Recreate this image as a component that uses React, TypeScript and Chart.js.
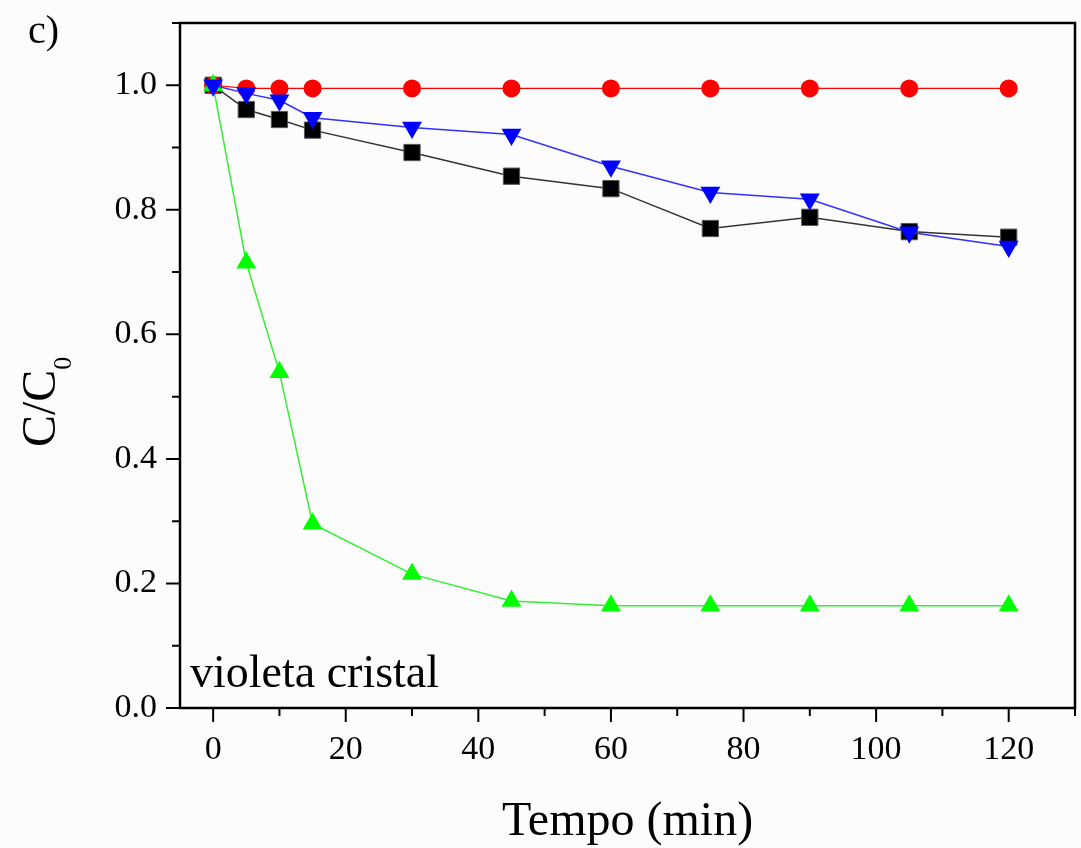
import React, { useEffect, useRef } from "react";
import { Chart, registerables } from "chart.js";

Chart.register(...registerables);

const times = [0, 5, 10, 15, 30, 45, 60, 75, 90, 105, 120];
const seriesBlack = [1.0, 0.961, 0.945, 0.928, 0.892, 0.854, 0.834, 0.77, 0.788, 0.765, 0.756];
const seriesRed = [1.0, 0.995, 0.995, 0.995, 0.995, 0.995, 0.995, 0.995, 0.995, 0.995, 0.995];
const seriesGreen = [1.0, 0.715, 0.539, 0.296, 0.215, 0.172, 0.164, 0.164, 0.164, 0.164, 0.164];
const seriesBlue = [1.0, 0.987, 0.976, 0.948, 0.932, 0.921, 0.87, 0.828, 0.817, 0.764, 0.741];

const xTicks = [0, 20, 40, 60, 80, 100, 120];
const xMinorTicks = [10, 30, 50, 70, 90, 110, 130];
const yTicks = [0, 0.2, 0.4, 0.6, 0.8, 1.0];
const yMinorTicks = [0.1, 0.3, 0.5, 0.7, 0.9, 1.1];

const SERIF = "'Liberation Serif', 'Times New Roman', serif";

const decorPlugin = {
  id: "decor",
  afterDraw(chart: any) {
    const { ctx, chartArea } = chart;
    const xs = chart.scales.x;
    const ys = chart.scales.y;
    const { left, right, top, bottom } = chartArea;
    ctx.save();
    ctx.strokeStyle = "#000";
    ctx.lineWidth = 2.5;
    ctx.strokeRect(left, top, right - left, bottom - top);
    ctx.lineWidth = 2;
    ctx.beginPath();
    for (const v of xTicks) {
      const px = xs.getPixelForValue(v);
      ctx.moveTo(px, bottom);
      ctx.lineTo(px, bottom + 14);
    }
    for (const v of xMinorTicks) {
      const px = xs.getPixelForValue(v);
      ctx.moveTo(px, bottom);
      ctx.lineTo(px, bottom + 8);
    }
    for (const v of yTicks) {
      const py = ys.getPixelForValue(v);
      ctx.moveTo(left, py);
      ctx.lineTo(left - 14, py);
    }
    for (const v of yMinorTicks) {
      const py = ys.getPixelForValue(v);
      ctx.moveTo(left, py);
      ctx.lineTo(left - 8, py);
    }
    ctx.stroke();

    ctx.fillStyle = "#000";
    ctx.textBaseline = "alphabetic";
    ctx.textAlign = "left";
    ctx.font = `40px ${SERIF}`;
    ctx.fillText("c)", 28, 43);

    ctx.font = `46px ${SERIF}`;
    ctx.fillText("violeta cristal", 190, 687);

    ctx.textAlign = "center";
    ctx.font = `48px ${SERIF}`;
    ctx.fillText("Tempo (min)", (left + right) / 2, 835);

    // y title with subscript
    ctx.save();
    ctx.translate(55, 447);
    ctx.rotate(-Math.PI / 2);
    ctx.textAlign = "left";
    ctx.font = `48px ${SERIF}`;
    const main = "C/C";
    ctx.fillText(main, 0, 0);
    const w = ctx.measureText(main).width;
    ctx.font = `26px ${SERIF}`;
    ctx.fillText("0", w, 16);
    ctx.restore();

    ctx.restore();
  },
};

export default function App() {
  const ref = useRef<HTMLCanvasElement | null>(null);

  useEffect(() => {
    document.body.style.margin = "0";
    document.body.style.background = "#fcfcfc";
    const canvas = ref.current;
    if (!canvas) return;
    const mk = (data: number[]) => times.map((t, i) => ({ x: t, y: data[i] }));
    const chart = new Chart(canvas, {
      type: "line",
      data: {
        datasets: [
          {
            label: "blue",
            data: mk(seriesBlue),
            borderColor: "#3030ff",
            borderWidth: 1.5,
            backgroundColor: "#0000ff",
            pointBackgroundColor: "#0000ff",
            pointBorderColor: "#0000ff",
            pointBorderWidth: 0,
            pointStyle: "triangle",
            pointRotation: 180,
            pointRadius: 11.5,
          },
          {
            label: "green",
            data: mk(seriesGreen),
            borderColor: "#33ee33",
            borderWidth: 1.5,
            backgroundColor: "#00ff00",
            pointBackgroundColor: "#00ff00",
            pointBorderColor: "#00ff00",
            pointBorderWidth: 0,
            pointStyle: "triangle",
            pointRadius: 11.5,
          },
          {
            label: "red",
            data: mk(seriesRed),
            borderColor: "#ff0000",
            borderWidth: 1.2,
            backgroundColor: "#ff0000",
            pointBackgroundColor: "#ff0000",
            pointBorderColor: "#ff0000",
            pointBorderWidth: 0,
            pointStyle: "circle",
            pointRadius: 9,
          },
          {
            label: "black",
            data: mk(seriesBlack),
            borderColor: "#333333",
            borderWidth: 1.5,
            backgroundColor: "#000000",
            pointBackgroundColor: "#000000",
            pointBorderColor: "#555555",
            pointBorderWidth: 1,
            pointStyle: "rect",
            pointRadius: 11.5,
          },
        ],
      },
      options: {
        animation: false,
        responsive: false,
        maintainAspectRatio: false,
        layout: { autoPadding: false, padding: { top: 23, right: 6, left: 0, bottom: 0 } },
        plugins: {
          legend: { display: false },
          tooltip: { enabled: false },
          title: { display: false },
        },
        scales: {
          x: {
            type: "linear",
            min: -5,
            max: 130,
            grid: { display: false, drawTicks: false },
            border: { display: false },
            afterBuildTicks: (s: any) => {
              s.ticks = xTicks.map((v) => ({ value: v }));
            },
            afterFit: (s: any) => {
              s.height = 140;
              s.paddingLeft = 0;
              s.paddingRight = 0;
              s.paddingTop = 0;
              s.paddingBottom = 0;
            },
            ticks: {
              padding: 22,
              color: "#000",
              font: { family: SERIF, size: 34 },
              maxRotation: 0,
              autoSkip: false,
              callback: (v: any) => String(v),
            },
          },
          y: {
            type: "linear",
            min: 0,
            max: 1.1,
            grid: { display: false, drawTicks: false },
            border: { display: false },
            afterBuildTicks: (s: any) => {
              s.ticks = yTicks.map((v) => ({ value: v }));
            },
            afterFit: (s: any) => {
              s.width = 180;
              s.paddingLeft = 0;
              s.paddingRight = 0;
              s.paddingTop = 0;
              s.paddingBottom = 0;
            },
            ticks: {
              padding: 23,
              color: "#000",
              font: { family: SERIF, size: 34 },
              autoSkip: false,
              callback: (v: any) => Number(v).toFixed(1),
            },
          },
        },
      },
      plugins: [decorPlugin],
    });
    return () => chart.destroy();
  }, []);

  return (
    <div style={{ width: 1081, height: 848, background: "#fcfcfc" }}>
      <canvas ref={ref} width={1081} height={848} style={{ display: "block" }} />
    </div>
  );
}
